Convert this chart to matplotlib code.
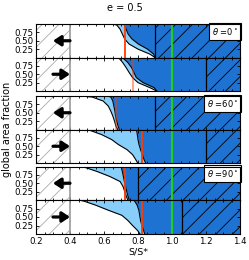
import numpy as np
import matplotlib
matplotlib.use("Agg")
import matplotlib.pyplot as plt
from matplotlib.ticker import MultipleLocator

# ----------------------------
# DATA
# ----------------------------
frac = [1.0, 0.97, 0.85, 0.7, 0.55, 0.4, 0.25, 0.1, 0.0]

inner = [
    [0.650, 0.675, 0.694, 0.708, 0.722, 0.748, 0.800, 0.870, 0.900],
    [0.660, 0.690, 0.710, 0.730, 0.748, 0.768, 0.800, 0.870, 0.910],
    [0.460, 0.530, 0.595, 0.625, 0.640, 0.652, 0.662, 0.670, 0.680],
    [0.490, 0.520, 0.585, 0.645, 0.685, 0.735, 0.768, 0.787, 0.798],
    [0.455, 0.490, 0.560, 0.635, 0.695, 0.712, 0.722, 0.732, 0.740],
    [0.450, 0.480, 0.550, 0.625, 0.705, 0.740, 0.768, 0.798, 0.812],
]
outer = [
    [0.715, 0.720, 0.730, 0.742, 0.765, 0.803, 0.856, 0.892, 0.900],
    [0.705, 0.715, 0.740, 0.762, 0.776, 0.790, 0.830, 0.895, 0.910],
    [0.620, 0.640, 0.652, 0.658, 0.664, 0.668, 0.675, 0.683, 0.690],
    [0.790, 0.792, 0.796, 0.800, 0.806, 0.815, 0.825, 0.836, 0.845],
    [0.700, 0.702, 0.708, 0.714, 0.720, 0.727, 0.734, 0.742, 0.748],
    [0.773, 0.780, 0.795, 0.805, 0.810, 0.815, 0.823, 0.833, 0.840],
]
hatch_start = [0.90, 1.20, 0.90, 1.20, 0.80, 1.06]
red_line = [0.725, 0.773, 0.672, 0.824, 0.725, 0.826]
red_alpha = [1.0, 0.5, 0.5, 1.0, 1.0, 1.0]
arrow_dir = ["left", "right", "left", "right", "left", "right"]
labels = ["0", None, "60", None, "90", None]

# ----------------------------
# COLORS / LAYOUT
# ----------------------------
DARK = "#1e72d2"
LIGHT = "#87cefa"
RED = "#ff3c00"
GREEN = "#22cc22"

W, H = 249, 260
# panel top/bottom in pixels
panels_px = [(24, 57.5), (57.5, 91), (96, 129.5), (129.5, 163), (166.5, 200), (200, 234)]
left_px, right_px = 36, 240

fig = plt.figure(figsize=(W / 100, H / 100), dpi=100)
plt.rcParams["hatch.linewidth"] = 0.6

axes = []
for i, (top, bot) in enumerate(panels_px):
    ax = fig.add_axes([left_px / W, 1 - bot / H, (right_px - left_px) / W, (bot - top) / H])
    axes.append(ax)

    xi = np.array(inner[i])
    xo = np.array(outer[i])
    y = np.array(frac)

    # left excluded region
    ax.fill_betweenx([0, 1], 0.2, 0.4, facecolor="white", edgecolor="#aaaaaa",
                     hatch="//", linewidth=0, zorder=1)
    ax.axvline(0.4, color="#999999", lw=1.2, zorder=3)

    # light and dark blue regions
    ax.fill_betweenx(y, xi, xo, color=LIGHT, lw=0, zorder=1)
    ax.fill_betweenx(y, xo, 1.4, color=DARK, lw=0, zorder=1)
    ax.fill_betweenx([0, 1], hatch_start[i], 1.4, facecolor=DARK, edgecolor="black",
                     hatch="//", linewidth=0, zorder=1)
    ax.axvline(hatch_start[i], color="black", lw=0.9, zorder=3)

    ax.plot(xi, y, color="black", lw=0.8, zorder=2)
    ax.plot(xo, y, color="black", lw=0.8, zorder=2)

    ax.axvline(1.0, color=GREEN, lw=1.6, zorder=4)
    ax.axvline(red_line[i], color=RED, lw=1.3, alpha=red_alpha[i], zorder=4)

    # arrows
    if arrow_dir[i] == "left":
        start, end = 0.4, 0.3
    else:
        start, end = 0.3, 0.4
    ax.annotate("", xy=(end, 0.5), xytext=(start, 0.5),
                arrowprops=dict(arrowstyle="-|>,head_length=0.45,head_width=0.3",
                                lw=2.3, color="black", shrinkA=0, shrinkB=0),
                zorder=5)

    if labels[i] is not None:
        ax.text(0.99, 0.95, r"$\theta$ =" + labels[i] + r"$^\circ$",
                transform=ax.transAxes, ha="right", va="top", fontsize=6,
                bbox=dict(boxstyle="square,pad=0.35", fc="white", ec="black", lw=0.8),
                zorder=6)

    ax.set_xlim(0.2, 1.4)
    ax.set_ylim(0, 1)
    ax.set_yticks([0.25, 0.5, 0.75])
    ax.set_yticklabels(["0.25", "0.50", "0.75"])
    ax.xaxis.set_major_locator(MultipleLocator(0.2))
    ax.xaxis.set_minor_locator(MultipleLocator(0.05))
    ax.tick_params(axis="both", which="both", direction="in", top=True, right=True,
                   labelsize=6.2, length=2.5, width=0.6, pad=2)
    ax.tick_params(axis="x", which="minor", length=1.5)
    for s in ax.spines.values():
        s.set_linewidth(0.8)
        s.set_zorder(7)
    if i < 5:
        ax.set_xticklabels([])

axes[-1].set_xticks([0.2, 0.4, 0.6, 0.8, 1.0, 1.2, 1.4])
axes[-1].set_xticklabels(["0.2", "0.4", "0.6", "0.8", "1.0", "1.2", "1.4"])
axes[-1].set_xlabel("S/S*", fontsize=6.8, labelpad=1)

fig.text(0.5, 1 - 8 / H, "e = 0.5", ha="center", va="center", fontsize=7)
fig.text(7 / W, 1 - 129 / H, "global area fraction", rotation=90,
         ha="center", va="center", fontsize=7)

fig.savefig("out.png", dpi=100)
